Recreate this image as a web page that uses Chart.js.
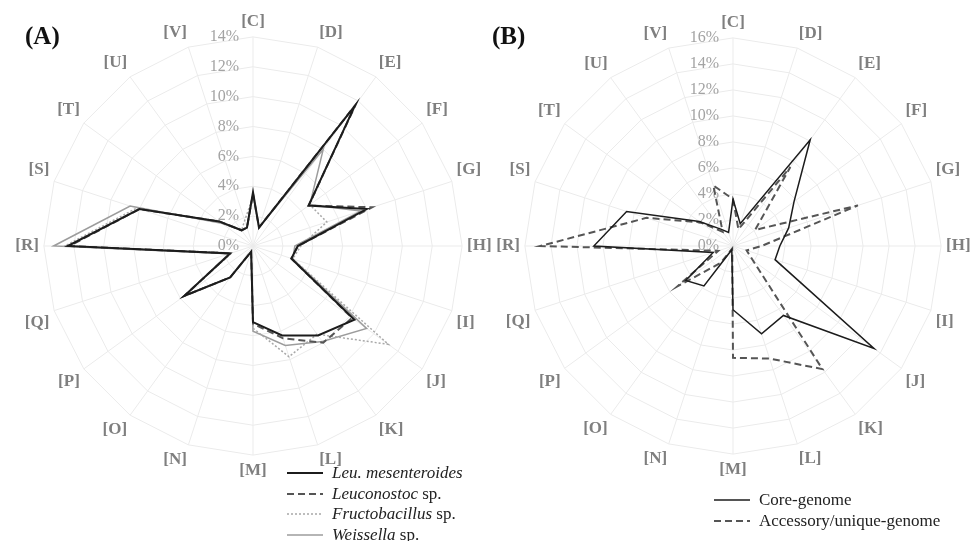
<!DOCTYPE html>
<html>
<head>
<meta charset="utf-8">
<script src="https://cdn.jsdelivr.net/npm/chart.js@4.4.1/dist/chart.umd.min.js"></script>
<style>
  html, body { margin: 0; padding: 0; background: #fff; overflow: hidden; }
  body { width: 974px; height: 541px; position: relative; font-family: "Liberation Serif", serif; }
  .box { position: absolute; top: 0; height: 541px; }
  #boxA { left: 2px; width: 504px; }
  #boxB { left: 492px; width: 484px; }
  .title { position: absolute; top: 22px; font-size: 25px; font-weight: bold; color: #111; }
  .legend { position: absolute; font-size: 17px; color: #222; line-height: 20.5px; }
  .legend div { display: flex; align-items: center; white-space: nowrap; }
  .legend svg { margin-right: 9px; }
</style>
</head>
<body>
<div class="box" id="boxA"><canvas id="chartA"></canvas></div>
<div class="box" id="boxB"><canvas id="chartB"></canvas></div>
<div class="title" style="left:25px">(A)</div>
<div class="title" style="left:492px">(B)</div>
<div class="legend" id="legendA" style="left:287px; top:463px"></div>
<div class="legend" id="legendB" style="left:714px; top:490px"></div>
<script>
const categories = ['[C]', '[D]', '[E]', '[F]', '[G]', '[H]', '[I]', '[J]', '[K]', '[L]',
                    '[M]', '[N]', '[O]', '[P]', '[Q]', '[R]', '[S]', '[T]', '[U]', '[V]'];

// (A) share of genes per COG category, %
const leuMesenteroides = [3.6, 1.3, 11.6, 4.6, 8.0, 3.0, 2.7, 8.4, 7.4, 6.3, 5.1, 0.4, 2.6, 5.7, 1.6, 12.4, 8.0, 2.8, 1.3, 1.3];
const leuconostocSp    = [3.5, 1.3, 11.7, 4.6, 8.4, 3.0, 2.7, 8.2, 8.0, 6.5, 5.2, 0.4, 2.6, 5.7, 1.6, 12.3, 8.0, 2.8, 1.3, 1.3];
const fructobacillusSp = [3.3, 1.3, 11.4, 4.7, 5.2, 3.2, 2.8, 11.2, 7.3, 7.8, 5.5, 0.4, 2.6, 5.6, 1.5, 12.6, 8.2, 2.8, 1.3, 1.8];
const weissellaSp      = [3.5, 1.3, 8.0, 4.7, 7.6, 2.8, 2.8, 9.4, 7.9, 7.0, 5.7, 0.4, 2.6, 5.6, 1.7, 13.35, 8.65, 2.6, 1.3, 1.3];

// (B) core vs accessory genome, %
const coreGenome      = [3.6, 1.8, 10.1, 5.8, 4.5, 3.6, 3.4, 13.4, 6.6, 7.1, 4.9, 0.3, 3.8, 4.5, 1.6, 10.7, 8.6, 3.2, 1.6, 1.1];
const accessoryGenome = [3.6, 1.35, 7.5, 2.1, 10.1, 2.2, 1.1, 1.9, 11.7, 9.1, 8.6, 0.2, 1.6, 5.3, 1.2, 14.8, 7.0, 3.1, 1.35, 4.9];

const maxA = 14;
const maxB = 16;

const sideTicks = {
  id: 'sideTicks',
  beforeDatasetsDraw(chart) {
    const s = chart.scales.r;
    const ctx = chart.ctx;
    ctx.save();
    ctx.font = '16px "Liberation Serif"';
    ctx.fillStyle = '#a3a3a3';
    ctx.textAlign = 'right';
    ctx.textBaseline = 'middle';
    s.ticks.forEach(t => {
      const y = s.yCenter - s.getDistanceFromCenterForValue(t.value);
      ctx.fillText(t.value + '%', s.xCenter - 14, y);
    });
    ctx.restore();
  }
};

function line(label, data, color, width, dash) {
  return {
    label: label, data: data, borderColor: color, borderWidth: width,
    borderDash: dash, fill: false, pointRadius: 0, tension: 0
  };
}

function makeChart(id, datasets, max, padTop, padBottom) {
  return new Chart(document.getElementById(id), {
    type: 'radar',
    data: { labels: categories, datasets: datasets },
    options: {
      responsive: true,
      maintainAspectRatio: false,
      animation: false,
      layout: { padding: { top: padTop, bottom: padBottom, left: 0, right: 0 } },
      plugins: { legend: { display: false }, tooltip: { enabled: false } },
      elements: { line: { borderJoinStyle: 'miter' } },
      scales: {
        r: {
          min: 0, max: max,
          ticks: { display: false, stepSize: 2 },
          grid: { color: '#ebebeb', lineWidth: 1 },
          angleLines: { color: '#ebebeb', lineWidth: 1 },
          pointLabels: {
            padding: 5,
            color: '#7f7f7f',
            font: { family: '"Liberation Serif"', size: 17, weight: 'bold' }
          }
        }
      }
    },
    plugins: [sideTicks]
  });
}

const chartA = makeChart('chartA', [
  line('Leu. mesenteroides', leuMesenteroides, '#1c1c1c', 2, []),
  line('Leuconostoc sp.', leuconostocSp, '#555555', 2, [7, 4]),
  line('Fructobacillus sp.', fructobacillusSp, '#a8a8a8', 1.5, [2, 2]),
  line('Weissella sp.', weissellaSp, '#9c9c9c', 1.5, [])
], maxA, 11.5, 60.5);

const chartB = makeChart('chartB', [
  line('Core-genome', coreGenome, '#1c1c1c', 1.5, []),
  line('Accessory/unique-genome', accessoryGenome, '#555555', 2, [7, 4])
], maxB, 12.5, 61.5);

function buildLegend(chart, el, italicGenus) {
  chart.data.datasets.forEach(ds => {
    const row = document.createElement('div');
    const dash = ds.borderDash.length ? ds.borderDash.join(',') : 'none';
    row.innerHTML = '<svg width="36" height="6"><line x1="0" y1="3" x2="36" y2="3" stroke="' +
      ds.borderColor + '" stroke-width="' + ds.borderWidth + '" stroke-dasharray="' + dash + '"/></svg>';
    const text = document.createElement('span');
    if (italicGenus) {
      const parts = ds.label.split(' ');
      if (parts[1] === 'sp.') {
        text.innerHTML = '<i>' + parts[0] + '</i> sp.';
      } else {
        text.innerHTML = '<i>' + ds.label + '</i>';
      }
    } else {
      text.textContent = ds.label;
    }
    row.appendChild(text);
    el.appendChild(row);
  });
}

buildLegend(chartA, document.getElementById('legendA'), true);
buildLegend(chartB, document.getElementById('legendB'), false);
</script>
</body>
</html>
